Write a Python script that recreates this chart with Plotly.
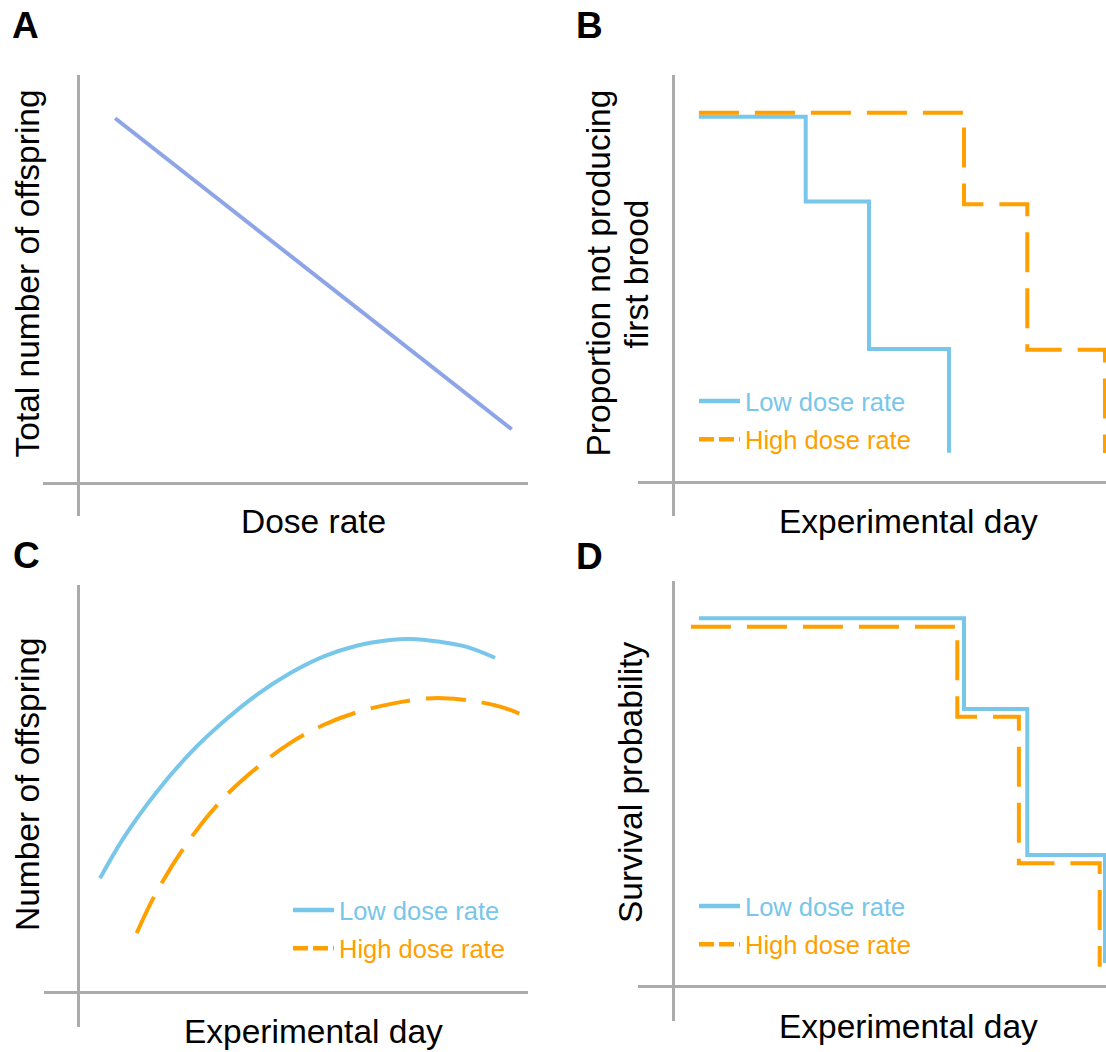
import plotly.graph_objects as go

W, H = 1106, 1052
FONT = "Liberation Sans, Arial, sans-serif"
BLUE = "#78C6E9"
ORANGE = "#FF9F00"
PERIW = "#8DA4E6"
GREY = "#ABABAB"
DASH = "40px,16px"

# ---------------- data (arbitrary conceptual units) ----------------
# Panel A
dose_rate = [0.85, 10.0]
total_offspring = [10.0, 1.48]

# Panel B
b_low_day = [3.2, 16.55, 24.46, 34.46]
b_low_prop = [1.0, 0.768, 0.365, 0.082]
b_high_day = [3.2, 36.34, 44.25, 53.96]
b_high_prop = [1.011, 0.761, 0.363, 0.081]

# Panel C
c_low_day = [5.21, 10.8, 18.81, 26.81, 34.8, 42.81, 50.8, 58.8, 66.81, 74.8, 79.6, 86.8, 93.21, 100.0]
c_low_off = [32.2, 43.5, 56.6, 67.5, 76.4, 84.0, 90.1, 94.8, 97.9, 99.5, 99.8, 99.0, 97.6, 94.5]
c_high_day = [14.01, 18.81, 26.81, 34.8, 42.81, 50.8, 58.8, 66.81, 74.8, 82.79, 87.59, 94.79, 101.2, 107.2]
c_high_off = [16.7, 28.4, 43.3, 54.8, 63.4, 70.4, 75.5, 79.1, 81.4, 82.9, 83.1, 82.3, 80.7, 78.1]

# Panel D
d_low_day = [3.2, 36.34, 44.25, 53.96]
d_low_surv = [1.0, 0.754, 0.3575, 0.064]
d_high_day = [2.2, 35.5, 43.2, 53.3]
d_high_surv = [0.977, 0.733, 0.335, 0.054]

legend_names = ["Low dose rate", "High dose rate"]

# ---------------- layout geometry (pixels) ----------------
panels = {
    "A": dict(left=43, right=528, top=75, bottom=516, x0=78.3, y0=483.3, sx=43.34, sy=36.5),
    "B": dict(left=638, right=1106, top=75, bottom=516, x0=673.3, y0=482.7, sx=8.0, sy=366.0),
    "C": dict(left=44, right=528, top=585, bottom=1026.7, x0=78.3, y0=992.3, sx=4.167, sy=3.54),
    "D": dict(left=638, right=1106, top=580.7, bottom=1021, x0=673.3, y0=986.7, sx=8.0, sy=368.4),
}
axis_ids = {"A": ("x", "y"), "B": ("x2", "y2"), "C": ("x3", "y3"), "D": ("x4", "y4")}

fig = go.Figure()

# Panel A
fig.add_trace(go.Scatter(x=dose_rate, y=total_offspring, mode="lines",
                         line=dict(color=PERIW, width=4), xaxis="x", yaxis="y",
                         showlegend=False, hoverinfo="skip"))
# Panel B
fig.add_trace(go.Scatter(x=b_low_day, y=b_low_prop, mode="lines", line_shape="hv",
                         line=dict(color=BLUE, width=4), xaxis="x2", yaxis="y2",
                         showlegend=False))
fig.add_trace(go.Scatter(x=b_high_day, y=b_high_prop, mode="lines", line_shape="hv",
                         line=dict(color=ORANGE, width=4, dash=DASH), xaxis="x2", yaxis="y2",
                         showlegend=False))
# Panel C
fig.add_trace(go.Scatter(x=c_low_day, y=c_low_off, mode="lines",
                         line=dict(color=BLUE, width=4, shape="spline", smoothing=1.0),
                         xaxis="x3", yaxis="y3", showlegend=False))
fig.add_trace(go.Scatter(x=c_high_day, y=c_high_off, mode="lines",
                         line=dict(color=ORANGE, width=4, dash=DASH, shape="spline", smoothing=1.0),
                         xaxis="x3", yaxis="y3", showlegend=False))
# Panel D
fig.add_trace(go.Scatter(x=d_low_day, y=d_low_surv, mode="lines", line_shape="hv",
                         line=dict(color=BLUE, width=4), xaxis="x4", yaxis="y4",
                         showlegend=False))
fig.add_trace(go.Scatter(x=d_high_day, y=d_high_surv, mode="lines", line_shape="hv",
                         line=dict(color=ORANGE, width=4, dash=DASH), xaxis="x4", yaxis="y4",
                         showlegend=False))

# legend entries (B, C, D)
for leg, (xa, ya) in zip(["legend", "legend2", "legend3"],
                         [("x2", "y2"), ("x3", "y3"), ("x4", "y4")]):
    fig.add_trace(go.Scatter(x=[None], y=[None], mode="lines", xaxis=xa, yaxis=ya,
                             line=dict(color=BLUE, width=4.5), legendgroup=leg + "low",
                             name=f"<span style='color:{BLUE}'>{legend_names[0]}</span>",
                             legend=leg, showlegend=True))
    fig.add_trace(go.Scatter(x=[None], y=[None], mode="lines", xaxis=xa, yaxis=ya,
                             line=dict(color=ORANGE, width=4.5, dash="15px,5px"),
                             legendgroup=leg + "high",
                             name=f"<span style='color:{ORANGE}'>{legend_names[1]}</span>",
                             legend=leg, showlegend=True))

layout = dict(width=W, height=H, margin=dict(l=0, r=0, t=0, b=0),
              paper_bgcolor="white", plot_bgcolor="white",
              font=dict(family=FONT, color="black"), showlegend=True)

for key, p in panels.items():
    xid, yid = axis_ids[key]
    xname = "xaxis" + xid[1:]
    yname = "yaxis" + yid[1:]
    common = dict(showgrid=False, showticklabels=False, ticks="", showline=False,
                  zeroline=True, zerolinecolor=GREY, zerolinewidth=3, fixedrange=True)
    layout[xname] = dict(common, domain=[p["left"] / W, p["right"] / W],
                         range=[(p["left"] - p["x0"]) / p["sx"], (p["right"] - p["x0"]) / p["sx"]],
                         anchor=yid)
    layout[yname] = dict(common, domain=[1 - p["bottom"] / H, 1 - p["top"] / H],
                         range=[(p["y0"] - p["bottom"]) / p["sy"], (p["y0"] - p["top"]) / p["sy"]],
                         anchor=xid)

def legend_cfg(xpx, ypx):
    return dict(x=xpx / W, y=1 - ypx / H, xanchor="left", yanchor="top",
                bgcolor="rgba(0,0,0,0)", borderwidth=0, itemwidth=41,
                font=dict(family=FONT, size=25.5), traceorder="grouped",
                tracegroupgap=2.0, groupclick="toggleitem",
                itemclick=False, itemdoubleclick=False)

layout["legend"] = legend_cfg(694, 378)
layout["legend2"] = legend_cfg(288, 887)
layout["legend3"] = legend_cfg(694, 883)

fig.update_layout(**layout)

def ann(text, xpx, ypx, size, angle=0, bold=False):
    fig.add_annotation(text=f"<b>{text}</b>" if bold else text,
                       x=xpx / W, y=1 - ypx / H, xref="paper", yref="paper",
                       xanchor="center", yanchor="middle", showarrow=False,
                       textangle=angle, font=dict(family=FONT, size=size, color="black"))

# panel letters
ann("A", 25.5, 25.5, 37, bold=True)
ann("B", 589, 25.5, 37, bold=True)
ann("C", 26, 555, 37, bold=True)
ann("D", 589, 556, 37, bold=True)

# x-axis titles
ann("Dose rate", 313.5, 521.5, 33.5)
ann("Experimental day", 908, 521.5, 33.5)
ann("Experimental day", 313, 1031, 33.5)
ann("Experimental day", 908, 1026.7, 33.5)

# y-axis titles
ann("Total number of offspring", 26.5, 274, 33.5, angle=-90)
ann("Proportion not producing", 597.5, 273, 33.5, angle=-90)
ann("first brood", 635.5, 274, 33.5, angle=-90)
ann("Number of offspring", 27, 784, 33.5, angle=-90)
ann("Survival probability", 630, 783, 33.5, angle=-90)

fig.write_html("out.html")
